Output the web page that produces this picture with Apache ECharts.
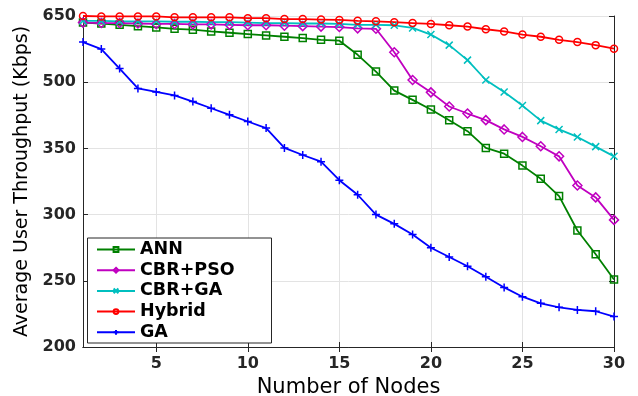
<!DOCTYPE html>
<html>
<head>
<meta charset="utf-8">
<script src="https://cdn.jsdelivr.net/npm/echarts@6/dist/echarts.min.js"></script>
<style>html,body{margin:0;padding:0;background:#fff}#c{width:638px;height:396px}</style>
</head>
<body>
<div id="c"></div>
<script>
const nodes = [1,2,3,4,5,6,7,8,9,10,11,12,13,14,15,16,17,18,19,20,21,22,23,24,25,26,27,28,29,30];
const xTicks = [5,10,15,20,25,30];
const yTickValues = [200,250,300,350,500,650];
const ann    = [635,633,630,627,624,621,619,615,612,609,606,603,600,596,594,562,524,481,460,438,414,389,351,346,337,327,314,288,270,251];
const cbrPso = [635,634,634,633,632,632,631,631,630,629,629,628,627,626,625,622,621,568,505,477,445,429,414,393,376,355,344,322,313,296];
const cbrGa  = [639,639,638,638,638,637,637,636,636,635,634,634,633,633,632,630,630,629,623,608,584,550,505,478,447,413,393,376,354,344];
const hybrid = [650,649,649,649,649,647,647,647,647,645,645,643,643,642,641,639,638,636,634,632,629,626,620,615,608,603,596,591,584,576];
const ga     = [591,575,531,486,478,470,456,441,426,411,396,351,345,340,326,315,300,293,285,275,268,261,253,245,238,233,230,228,227,223];

// piecewise-linear y scale: 200..350 in steps of 50, then 350..650 in steps of 150
function toAxis(v){
  for (let i = 0; i < yTickValues.length - 1; i++) {
    const a = yTickValues[i], b = yTickValues[i+1];
    if (v <= b || i === yTickValues.length - 2) return i + (v - a) / (b - a);
  }
}
const pts = arr => nodes.map((n, i) => [n, toAxis(arr[i])]);

const plus = 'path://M5,0L5,10M0,5L10,5';
const cross = 'path://M0,0L10,10M10,0L0,10';
function mk(name, data, color, symbol, size){
  return {
    name, type:'line', data: pts(data), symbol, symbolSize: size,
    lineStyle:{color, width:1.8},
    itemStyle:{color:'rgba(255,255,255,0)', borderColor: color, borderWidth:1.5},
    emphasis:{disabled:true}, animation:false
  };
}
const axisColor = '#262626';
const font = 'DejaVu Sans';
const chart = echarts.init(document.getElementById('c'));
chart.setOption({
  animation:false,
  grid:{left:83, right:24, top:16, bottom:49, outerBoundsMode:'none', containLabel:false},
  graphic:[{type:'rect', z:10, shape:{x:87.5, y:238, width:184, height:105},
    style:{fill:'#fff', stroke:axisColor, lineWidth:1}}],
  legend:{
    z:20, orient:'vertical', left:96, top:240.5, padding:0,
    itemWidth:38, itemHeight:6, itemGap:2.7,
    textStyle:{fontFamily:font, fontWeight:'bold', fontSize:17.5, color:'#000'},
    data:['ANN','CBR+PSO','CBR+GA','Hybrid','GA']
  },
  xAxis:[{
    type:'value', min:1, max:30,
    name:'Number of Nodes', nameLocation:'middle', nameGap:22,
    nameTextStyle:{fontFamily:font, fontSize:21, color:'#000'},
    axisLine:{lineStyle:{color:axisColor, width:1}},
    axisTick:{inside:true, length:5, customValues:xTicks, lineStyle:{color:axisColor}},
    axisLabel:{customValues:xTicks, margin:9, fontFamily:font, fontWeight:'bold', fontSize:16, color:axisColor},
    splitLine:{show:true, lineStyle:{color:'#e3e3e3', width:1}}
  },{
    type:'value', min:1, max:30, position:'top',
    axisLine:{show:true, lineStyle:{color:axisColor, width:1}},
    axisTick:{inside:true, length:5, customValues:xTicks, lineStyle:{color:axisColor}},
    axisLabel:{show:false}, splitLine:{show:false}
  }],
  yAxis:[{
    type:'value', min:0, max:5, interval:1,
    name:'Average User Throughput (Kbps)', nameLocation:'middle', nameGap:50,
    nameTextStyle:{fontFamily:font, fontSize:19, color:'#000'},
    axisLine:{show:true, lineStyle:{color:axisColor, width:1}},
    axisTick:{show:true, inside:true, length:5, lineStyle:{color:axisColor}},
    axisLabel:{margin:7, fontFamily:font, fontWeight:'bold', fontSize:16, color:axisColor,
      formatter: v => String(yTickValues[Math.round(v)])},
    splitLine:{show:true, lineStyle:{color:'#e3e3e3', width:1}}
  },{
    type:'value', min:0, max:5, interval:1, position:'right',
    axisLine:{show:true, lineStyle:{color:axisColor, width:1}},
    axisTick:{show:true, inside:true, length:5, lineStyle:{color:axisColor}},
    axisLabel:{show:false}, splitLine:{show:false}
  }],
  series:[
    mk('ANN', ann, '#008000', 'rect', 7),
    mk('CBR+PSO', cbrPso, '#c000c0', 'diamond', 9),
    mk('CBR+GA', cbrGa, '#00bfbf', cross, 7),
    mk('Hybrid', hybrid, '#ff0000', 'circle', 7),
    mk('GA', ga, '#0000ff', plus, 8)
  ]
});
</script>
</body>
</html>
